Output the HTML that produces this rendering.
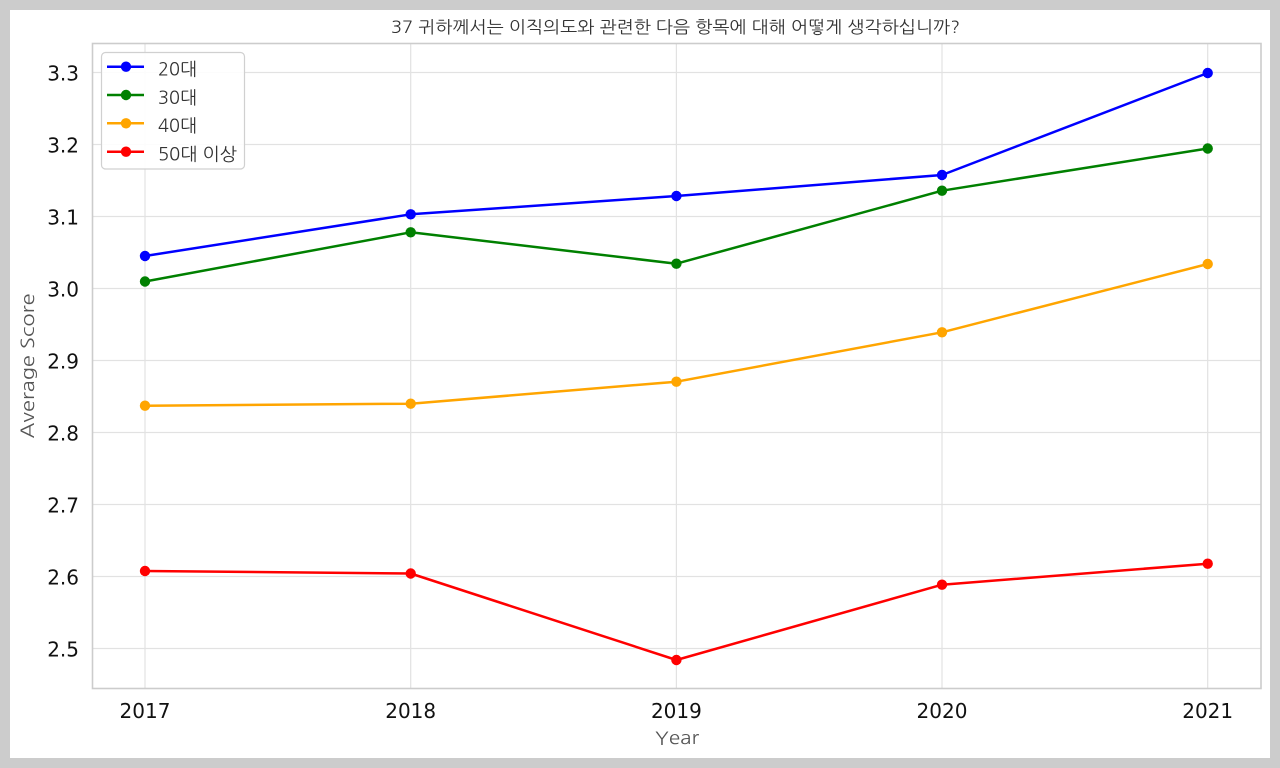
<!DOCTYPE html>
<html>
<head>
<meta charset="utf-8">
<style>
  html,body{margin:0;padding:0;background:#cccccc;}
  svg{display:block;}
  .tick{font-family:"DejaVu Sans","Liberation Sans",sans-serif;font-size:20px;fill:#111;}
  .kr{font-family:"NanumGothic","Liberation Sans","Noto Sans CJK KR",sans-serif;}
</style>
</head>
<body>
<svg width="1280" height="768" viewBox="0 0 1280 768" xmlns="http://www.w3.org/2000/svg">
  <rect x="0" y="0" width="1280" height="768" fill="#cccccc"/>
  <rect x="10" y="10" width="1260" height="748" fill="#ffffff"/>

  <!-- title -->
  <text class="kr" x="391" y="33" font-size="17" fill="#333" textLength="569" lengthAdjust="spacingAndGlyphs">37 귀하께서는 이직의도와 관련한 다음 항목에 대해 어떻게 생각하십니까?</text>

  <!-- grid -->
  <g stroke="#e2e2e2" stroke-width="1.2">
    <line x1="92.5" x2="1261" y1="72.5" y2="72.5"/>
    <line x1="92.5" x2="1261" y1="144.5" y2="144.5"/>
    <line x1="92.5" x2="1261" y1="216.5" y2="216.5"/>
    <line x1="92.5" x2="1261" y1="288.5" y2="288.5"/>
    <line x1="92.5" x2="1261" y1="360.5" y2="360.5"/>
    <line x1="92.5" x2="1261" y1="432.5" y2="432.5"/>
    <line x1="92.5" x2="1261" y1="504.5" y2="504.5"/>
    <line x1="92.5" x2="1261" y1="576.5" y2="576.5"/>
    <line x1="92.5" x2="1261" y1="648.5" y2="648.5"/>
    <line x1="145" x2="145" y1="43.5" y2="688.5"/>
    <line x1="410.7" x2="410.7" y1="43.5" y2="688.5"/>
    <line x1="676.4" x2="676.4" y1="43.5" y2="688.5"/>
    <line x1="942" x2="942" y1="43.5" y2="688.5"/>
    <line x1="1207.7" x2="1207.7" y1="43.5" y2="688.5"/>
  </g>

  <!-- spines -->
  <rect x="92.5" y="43.5" width="1168.5" height="645" fill="none" stroke="#cccccc" stroke-width="1.6"/>

  <!-- y tick labels -->
  <g class="tick" text-anchor="end">
    <text x="79" y="80.5">3.3</text>
    <text x="79" y="152.5">3.2</text>
    <text x="79" y="224.5">3.1</text>
    <text x="79" y="296.5">3.0</text>
    <text x="79" y="368.5">2.9</text>
    <text x="79" y="440.5">2.8</text>
    <text x="79" y="512.5">2.7</text>
    <text x="79" y="584.5">2.6</text>
    <text x="79" y="656.5">2.5</text>
  </g>

  <!-- x tick labels -->
  <g class="tick" text-anchor="middle">
    <text x="145" y="718">2017</text>
    <text x="410.7" y="718">2018</text>
    <text x="676.4" y="718">2019</text>
    <text x="942" y="718">2020</text>
    <text x="1207.7" y="718">2021</text>
  </g>

  <!-- axis labels -->
  <text class="kr" x="677" y="744" font-size="18" fill="#555" text-anchor="middle" textLength="44" lengthAdjust="spacingAndGlyphs">Year</text>
  <text class="kr" transform="translate(34,366) rotate(-90)" x="0" y="0" font-size="18" fill="#555" text-anchor="middle" textLength="145" lengthAdjust="spacingAndGlyphs">Average Score</text>

  <!-- series -->
  <g fill="none" stroke-width="2.5" stroke-linejoin="round">
    <polyline stroke="#0000ff" points="145,256 410.7,214.3 676.4,196 942,175 1207.7,73"/>
    <polyline stroke="#008000" points="145,281.5 410.7,232.3 676.4,263.7 942,190.7 1207.7,148.5"/>
    <polyline stroke="#ffa500" points="145,405.7 410.7,403.7 676.4,381.7 942,332.3 1207.7,264"/>
    <polyline stroke="#ff0000" points="145,571 410.7,573.5 676.4,660 942,584.7 1207.7,563.7"/>
  </g>
  <g fill="#0000ff">
    <circle cx="145" cy="256" r="5.2"/><circle cx="410.7" cy="214.3" r="5.2"/><circle cx="676.4" cy="196" r="5.2"/><circle cx="942" cy="175" r="5.2"/><circle cx="1207.7" cy="73" r="5.2"/>
  </g>
  <g fill="#008000">
    <circle cx="145" cy="281.5" r="5.2"/><circle cx="410.7" cy="232.3" r="5.2"/><circle cx="676.4" cy="263.7" r="5.2"/><circle cx="942" cy="190.7" r="5.2"/><circle cx="1207.7" cy="148.5" r="5.2"/>
  </g>
  <g fill="#ffa500">
    <circle cx="145" cy="405.7" r="5.2"/><circle cx="410.7" cy="403.7" r="5.2"/><circle cx="676.4" cy="381.7" r="5.2"/><circle cx="942" cy="332.3" r="5.2"/><circle cx="1207.7" cy="264" r="5.2"/>
  </g>
  <g fill="#ff0000">
    <circle cx="145" cy="571" r="5.2"/><circle cx="410.7" cy="573.5" r="5.2"/><circle cx="676.4" cy="660" r="5.2"/><circle cx="942" cy="584.7" r="5.2"/><circle cx="1207.7" cy="563.7" r="5.2"/>
  </g>

  <!-- legend -->
  <rect x="101.5" y="52.5" width="143" height="116.5" rx="4" ry="4" fill="#ffffff" fill-opacity="0.9" stroke="#d0d0d0" stroke-width="1.2"/>
  <g stroke-width="2.5">
    <line x1="107" x2="144" y1="66.7" y2="66.7" stroke="#0000ff"/>
    <line x1="107" x2="144" y1="95" y2="95" stroke="#008000"/>
    <line x1="107" x2="144" y1="123.3" y2="123.3" stroke="#ffa500"/>
    <line x1="107" x2="144" y1="151.7" y2="151.7" stroke="#ff0000"/>
  </g>
  <circle cx="126" cy="66.7" r="5.2" fill="#0000ff"/>
  <circle cx="126" cy="95" r="5.2" fill="#008000"/>
  <circle cx="126" cy="123.3" r="5.2" fill="#ffa500"/>
  <circle cx="126" cy="151.7" r="5.2" fill="#ff0000"/>
  <g class="kr" font-size="18" fill="#333">
    <text x="158" y="75.5" textLength="39" lengthAdjust="spacingAndGlyphs">20대</text>
    <text x="158" y="103.8" textLength="39" lengthAdjust="spacingAndGlyphs">30대</text>
    <text x="158" y="132.1" textLength="39" lengthAdjust="spacingAndGlyphs">40대</text>
    <text x="158" y="160.5" textLength="79" lengthAdjust="spacingAndGlyphs">50대 이상</text>
  </g>
</svg>
</body>
</html>
